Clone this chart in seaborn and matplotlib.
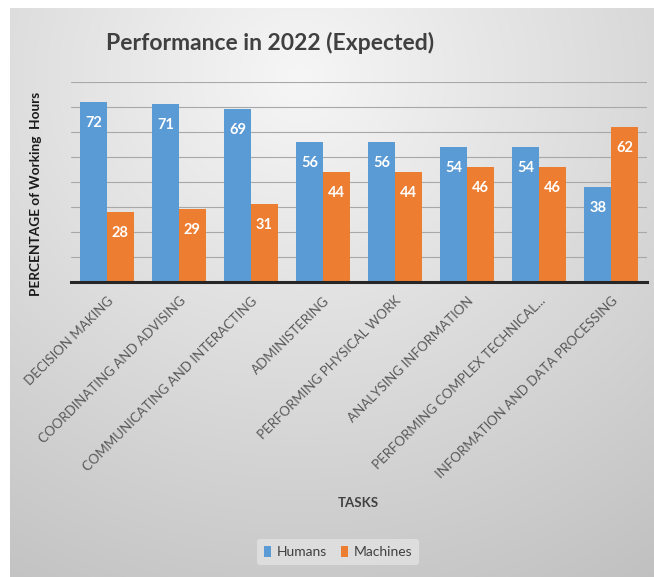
import numpy as np
import pandas as pd
import matplotlib
matplotlib.use("Agg")
import matplotlib.pyplot as plt
import seaborn as sns

tasks = [
    "DECISION MAKING",
    "COORDINATING AND ADVISING",
    "COMMUNICATING AND INTERACTING",
    "ADMINISTERING",
    "PERFORMING PHYSICAL WORK",
    "ANALYSING INFORMATION",
    "PERFORMING COMPLEX TECHNICAL...",
    "INFORMATION AND DATA PROCESSING",
]
humans = [72, 71, 69, 56, 56, 54, 54, 38]
machines = [28, 29, 31, 44, 44, 46, 46, 62]
series = ["Humans", "Machines"]
colors = ["#5b9bd5", "#ed7d31"]

df = pd.DataFrame({
    "task": tasks * 2,
    "pct": humans + machines,
    "who": [series[0]] * len(tasks) + [series[1]] * len(tasks),
})

sns.set_theme(style="white")
plt.rcParams["font.family"] = ["Lato", "DejaVu Sans"]

W, H = 654, 577
fig = plt.figure(figsize=(W / 100, H / 100), dpi=100)
fig.patch.set_facecolor("white")

# radial grey gradient panel behind the chart
bg = fig.add_axes([10 / W, 0, (W - 10) / W, (H - 8) / H], zorder=-10)
yy, xx = np.mgrid[0:1:300j, 0:1:300j]
r = np.sqrt(((xx - 0.45) * 1.0) ** 2 + ((yy - 0.12) * 0.95) ** 2)
shade = np.clip(0.965 - 0.21 * r, 0, 1)
bg.imshow(np.dstack([shade] * 3), extent=[0, 1, 0, 1], origin="upper", aspect="auto")
bg.set_axis_off()

ax = fig.add_axes([71 / W, 1 - 282 / H, 576 / W, 200 / H])
ax.set_facecolor("none")

sns.barplot(data=df, x="task", y="pct", hue="who", palette=colors,
            width=0.74, saturation=1, linewidth=0, edgecolor="none",
            ax=ax, legend=True, zorder=3)

ax.set_ylim(0, 80)
ax.set_yticks(np.arange(0, 81, 10))
ax.set_yticklabels([])
ax.yaxis.grid(True, color="#a8a8a8", lw=0.8, zorder=0)
ax.set_axisbelow(True)
ax.tick_params(axis="both", length=0)
for s in ["top", "right", "left"]:
    ax.spines[s].set_visible(False)
ax.spines["bottom"].set_color("#262626")
ax.spines["bottom"].set_linewidth(2.2)
ax.spines["bottom"].set_zorder(5)

for cont in ax.containers:
    labels = ax.bar_label(cont, fmt="%d", padding=-15, color="white",
                          fontsize=10.5, fontweight="bold")
    for t in labels:
        t.set_va("center")

ax.set_xticks(range(len(tasks)))
ax.set_xticklabels(tasks, rotation=45, ha="right", rotation_mode="anchor",
                   fontsize=9.5, color="#595959")
ax.tick_params(axis="x", pad=9)

ax.set_ylabel("PERCENTAGE of Working  Hours", fontsize=9.8, fontweight="bold",
              color="#1a1a1a")
ax.yaxis.set_label_coords(-0.05, 0.44)
ax.set_xlabel("")
fig.text(358 / W, 1 - 503 / H, "TASKS", ha="center", va="center",
         fontsize=9.5, fontweight="bold", color="#404040")

fig.text(270 / W, 1 - 43 / H, "Performance in 2022 (Expected)", ha="center",
         va="center", fontsize=16.5, fontweight="bold", color="#404040")

handles, labs = ax.get_legend_handles_labels()
ax.legend_.remove()
leg = fig.legend(handles, labs, loc="center", bbox_to_anchor=(338 / W, 1 - 552 / H),
                 ncol=2, frameon=True, fontsize=10, handlelength=0.5,
                 handleheight=0.8, handletextpad=0.4, columnspacing=1.0,
                 borderpad=0.5)
leg.get_frame().set_facecolor("#e2e2e2")
leg.get_frame().set_edgecolor("none")
leg.get_frame().set_alpha(0.8)
for t in leg.get_texts():
    t.set_color("#404040")

fig.savefig("out.png", dpi=100, facecolor="white")
